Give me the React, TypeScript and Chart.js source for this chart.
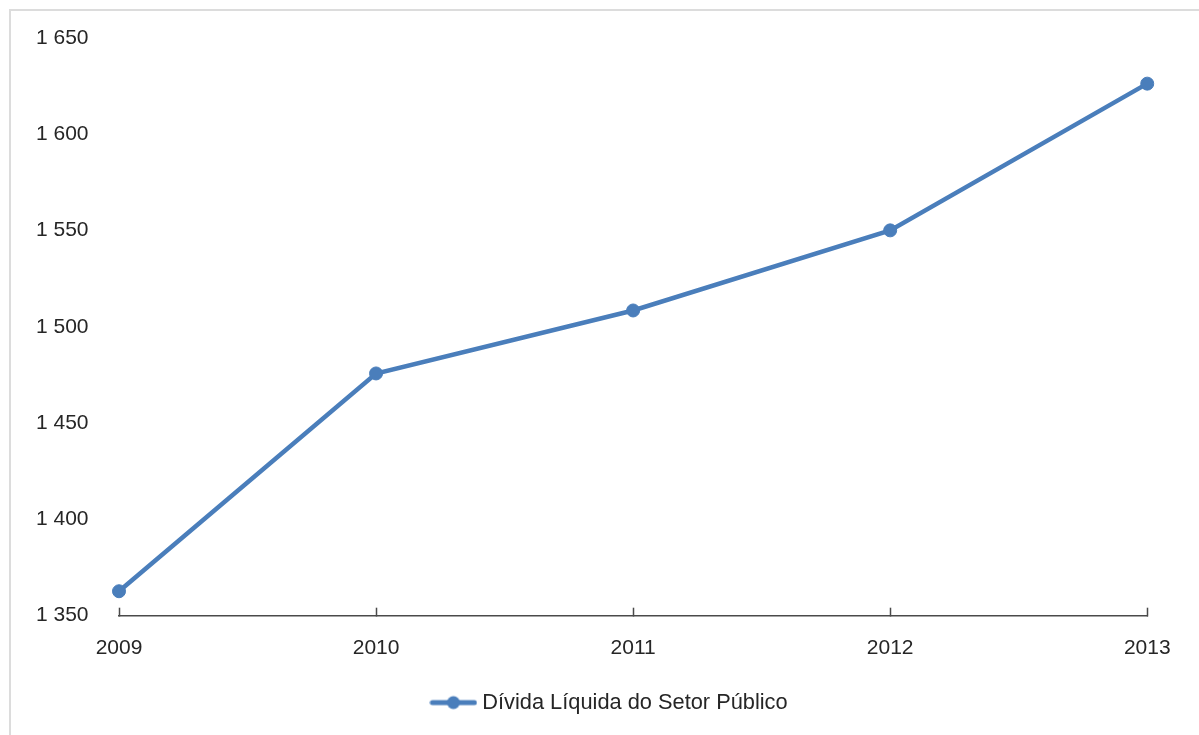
import React, { useEffect, useRef } from "react";
import { Chart, registerables } from "chart.js";

Chart.register(...registerables);

const categories: string[] = ["2009", "2010", "2011", "2012", "2013"];
const debtValues: number[] = [1362.7, 1475.8, 1508.5, 1550.1, 1626.3];
const seriesLabel = "Dívida Líquida do Setor Público";
const yMin = 1350;
const yMax = 1650;
const yStep = 50;

const LINE_COLOR = "#4a7ebb";
const TEXT_COLOR = "#262626";
const FONT = { family: "'Liberation Sans', Arial, sans-serif", size: 21 };
const LEGEND_FONT = { family: "'Liberation Sans', Arial, sans-serif", size: 21.8 };

function fmt(v: number): string {
  return String(Math.round(v)).replace(/\B(?=(\d{3})+(?!\d))/g, " ");
}

function makeLegendMarker(): HTMLCanvasElement {
  const c = document.createElement("canvas");
  c.width = 48;
  c.height = 16;
  const ctx = c.getContext("2d")!;
  ctx.strokeStyle = LINE_COLOR;
  ctx.lineWidth = 5;
  ctx.lineCap = "round";
  ctx.beginPath();
  ctx.moveTo(3, 8);
  ctx.lineTo(45, 8);
  ctx.stroke();
  ctx.fillStyle = LINE_COLOR;
  ctx.beginPath();
  ctx.arc(24, 8, 6.5, 0, Math.PI * 2);
  ctx.fill();
  return c;
}

export default function App() {
  const ref = useRef<HTMLCanvasElement | null>(null);

  useEffect(() => {
    if (!ref.current) return;
    const marker = makeLegendMarker();
    const chart = new Chart(ref.current, {
      type: "line",
      data: {
        labels: categories,
        datasets: [
          {
            label: seriesLabel,
            data: debtValues,
            borderColor: LINE_COLOR,
            backgroundColor: LINE_COLOR,
            borderWidth: 4.5,
            pointRadius: 6.5,
            pointBackgroundColor: LINE_COLOR,
            pointBorderColor: LINE_COLOR,
            pointBorderWidth: 1,
            tension: 0,
            fill: false,
          },
        ],
      },
      options: {
        animation: false,
        responsive: false,
        devicePixelRatio: 1,
        layout: { padding: { left: 74, right: 50, top: 38, bottom: 11.5 } },
        plugins: {
          title: { display: false },
          tooltip: { enabled: false },
          legend: {
            display: true,
            position: "bottom",
            labels: {
              usePointStyle: true,
              pointStyleWidth: 36,
              padding: 10,
              color: TEXT_COLOR,
              font: LEGEND_FONT,
              generateLabels: () => [
                {
                  text: seriesLabel,
                  pointStyle: marker as any,
                  fillStyle: LINE_COLOR,
                  strokeStyle: LINE_COLOR,
                  lineWidth: 0,
                  hidden: false,
                  datasetIndex: 0,
                  fontColor: TEXT_COLOR,
                } as any,
              ],
            },
          },
        },
        scales: {
          x: {
            type: "category",
            offset: false,
            grid: {
              display: true,
              drawOnChartArea: false,
              drawTicks: true,
              tickLength: -8,
              tickColor: "#4a4a4a",
              tickWidth: 1.5,
            },
            border: { display: true, color: "#4a4a4a", width: 1.5 },
            ticks: { color: TEXT_COLOR, font: FONT, padding: 28.4, maxRotation: 0 },
            afterFit: (scale: any) => {
              scale.height = 66;
            },
          },
          y: {
            min: yMin,
            max: yMax,
            grid: { display: false, drawTicks: false },
            border: { display: false },
            ticks: {
              stepSize: yStep,
              color: TEXT_COLOR,
              font: FONT,
              mirror: true,
              padding: -83,
              callback: (v: any) => fmt(Number(v)),
            },
            afterFit: (scale: any) => {
              scale.width = 45;
            },
          },
        },
      },
    });
    return () => chart.destroy();
  }, []);

  return (
    <>
      <div
        style={{
          position: "fixed",
          left: 9,
          top: 9,
          width: 1400,
          height: 900,
          borderTop: "2px solid #dcdcdc",
          borderLeft: "2px solid #dcdcdc",
          pointerEvents: "none",
        }}
      />
      <canvas
        ref={ref}
        width={1199}
        height={735}
        style={{ position: "fixed", left: 0, top: 0, width: 1199, height: 735 }}
      />
    </>
  );
}
